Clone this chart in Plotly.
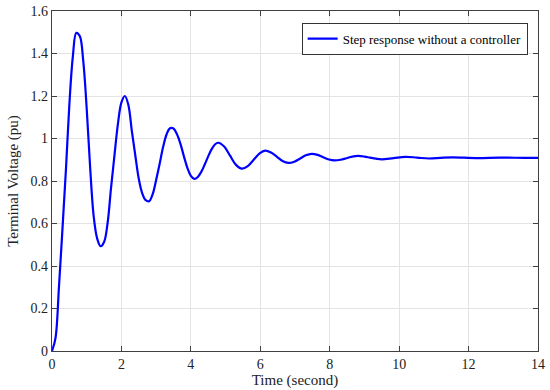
import plotly.graph_objects as go

# Values (time in s, terminal voltage in pu)
time_s = [0.0, 0.1, 0.2, 0.3, 0.4, 0.5, 0.6, 0.7, 0.8, 0.9,
          1.0, 1.1, 1.2, 1.3, 1.4, 1.5, 1.6, 1.7, 1.8, 1.9,
          2.0, 2.1, 2.2, 2.3, 2.4, 2.5, 2.6, 2.7, 2.8, 2.9,
          3.0, 3.1, 3.2, 3.3, 3.4, 3.5, 3.6, 3.7, 3.8, 3.9,
          4.0, 4.1, 4.2, 4.3, 4.4, 4.5, 4.6, 4.7, 4.79,
          4.96, 5.13, 5.30, 5.47, 5.64, 5.81, 5.98, 6.14, 6.31, 6.48, 6.64, 6.81,
          6.98, 7.15, 7.31, 7.48, 7.65, 7.81, 7.98, 8.14, 8.31, 8.48, 8.65, 8.82,
          9.0, 9.16, 9.33, 9.5, 9.84, 10.18, 10.52, 10.86, 11.2, 11.54,
          12.22, 12.9, 13.6, 14.0]
voltage_pu = [0.0, 0.06, 0.30, 0.57, 0.85, 1.16, 1.385, 1.497, 1.482, 1.365,
              1.14, 0.86, 0.635, 0.53, 0.493, 0.513, 0.60, 0.766, 0.922, 1.07,
              1.17, 1.20, 1.158, 1.035, 0.92, 0.81, 0.742, 0.71, 0.705, 0.738,
              0.805, 0.88, 0.96, 1.019, 1.048, 1.047, 1.02, 0.975, 0.916, 0.862,
              0.824, 0.81, 0.819, 0.843, 0.878, 0.916, 0.95, 0.973, 0.98,
              0.962, 0.919, 0.876, 0.858, 0.870, 0.90, 0.93, 0.943, 0.934, 0.914, 0.894, 0.885,
              0.891, 0.906, 0.921, 0.928, 0.923, 0.912, 0.901, 0.897, 0.900, 0.907, 0.915, 0.918,
              0.915, 0.910, 0.905, 0.902, 0.908, 0.914, 0.910, 0.906, 0.909, 0.911,
              0.908, 0.910, 0.909, 0.909]

series_name = "Step response without a controller"
x_ticks = [0, 2, 4, 6, 8, 10, 12, 14]
y_ticks = [0, 0.2, 0.4, 0.6, 0.8, 1.0, 1.2, 1.4, 1.6]
y_tick_text = ["0", "0.2", "0.4", "0.6", "0.8", "1", "1.2", "1.4", "1.6"]

FONT = "Palatino Linotype, Book Antiqua, Palatino, Liberation Serif, serif"
AX = "#404040"
GRID = "#e3e3e3"

fig = go.Figure()
fig.add_trace(go.Scatter(
    x=time_s, y=voltage_pu, mode="lines", name=series_name,
    line=dict(color="#0000ff", width=2.2, shape="spline", smoothing=1.0),
))

fig.update_layout(
    width=550, height=390,
    margin=dict(l=52, r=12, t=11, b=39),
    paper_bgcolor="white", plot_bgcolor="white",
    font=dict(family=FONT, size=14, color="#222222"),
    showlegend=True,
    legend=dict(
        x=0.9787, y=0.9656, xanchor="right", yanchor="top",
        bgcolor="white", bordercolor="#333333", borderwidth=1,
        font=dict(family=FONT, size=13, color="#000000"),
        tracegroupgap=0, itemwidth=30,
    ),
)

fig.update_xaxes(
    range=[0, 14], tickvals=x_ticks, ticktext=[str(v) for v in x_ticks],
    showgrid=True, gridcolor=GRID, gridwidth=1,
    showline=True, linecolor=AX, linewidth=1.3, mirror="ticks",
    ticks="inside", ticklen=5, tickcolor=AX, tickwidth=1,
    zeroline=False,
    tickfont=dict(family=FONT, size=14, color="#222222"),
    title=dict(text="Time (second)", font=dict(family=FONT, size=15, color="#222222"), standoff=0),
    automargin=False,
)
fig.update_yaxes(
    range=[0, 1.6], tickvals=y_ticks, ticktext=y_tick_text,
    showgrid=True, gridcolor=GRID, gridwidth=1,
    showline=True, linecolor=AX, linewidth=1.3, mirror="ticks",
    ticks="inside", ticklen=5, tickcolor=AX, tickwidth=1,
    zeroline=False,
    tickfont=dict(family=FONT, size=14, color="#222222"),
    title=dict(text="Terminal Voltage (pu)", font=dict(family=FONT, size=15, color="#222222"), standoff=8),
    automargin=False,
)

fig.write_html("out.html", config={"displayModeBar": False},
               post_script="document.body.style.margin='0';document.body.style.overflow='hidden';")
